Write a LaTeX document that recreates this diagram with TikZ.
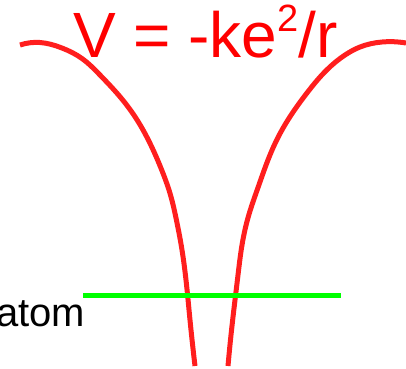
\documentclass[tikz,border=0pt]{standalone}
\usepackage{fontspec}
\setmainfont{Liberation Sans}
\usetikzlibrary{hobby}
\definecolor{curvered}{RGB}{255,30,30}
\definecolor{titlered}{RGB}{255,0,0}
\definecolor{levelgreen}{RGB}{0,255,0}
\begin{document}
\begin{tikzpicture}[x=1pt,y=-1pt,
  curve/.style={draw=curvered,line width=5pt},
  level/.style={draw=levelgreen,line width=5pt},
  lbl/.style={inner sep=0pt,outer sep=0pt}]
\useasboundingbox (0,0) rectangle (406,368);
\clip (0,0) rectangle (406,368);
% left branch
\draw[curve,use Hobby shortcut] (20,45) .. (40,42.5) .. (62,48) .. (81.7,58.3) .. (100,75) .. (120,96.7) .. (135,116.7) .. (150,143.3) .. (161.7,170) .. (170,193.3) .. (176,218) .. (182,250) .. (186,280) .. (190,320) .. (195,366);
% right branch
\draw[curve,use Hobby shortcut] (406,43) .. (382,42) .. (360,47) .. (345,55) .. (326.7,70) .. (306.7,93.3) .. (290,116.7) .. (276.7,140) .. (266.7,163.3) .. (258.3,186.7) .. (248.3,216.7) .. (242,245) .. (238,275) .. (235,300) .. (231,335) .. (228,366);
% energy level
\coordinate (g1) at (83,295.5);
\coordinate (g2) at (341,295.5);
\draw[level] (g1) -- (g2);
\node[lbl,anchor=base east,font=\fontsize{40}{40}\selectfont] (atom) at (85,326) {atom};
\node[lbl,anchor=base west,text=titlered,font=\fontsize{64}{64}\selectfont] (title) at (73,57) {V = -ke\raisebox{26pt}{\fontsize{38}{38}\selectfont 2}/r};
\end{tikzpicture}
\end{document}
